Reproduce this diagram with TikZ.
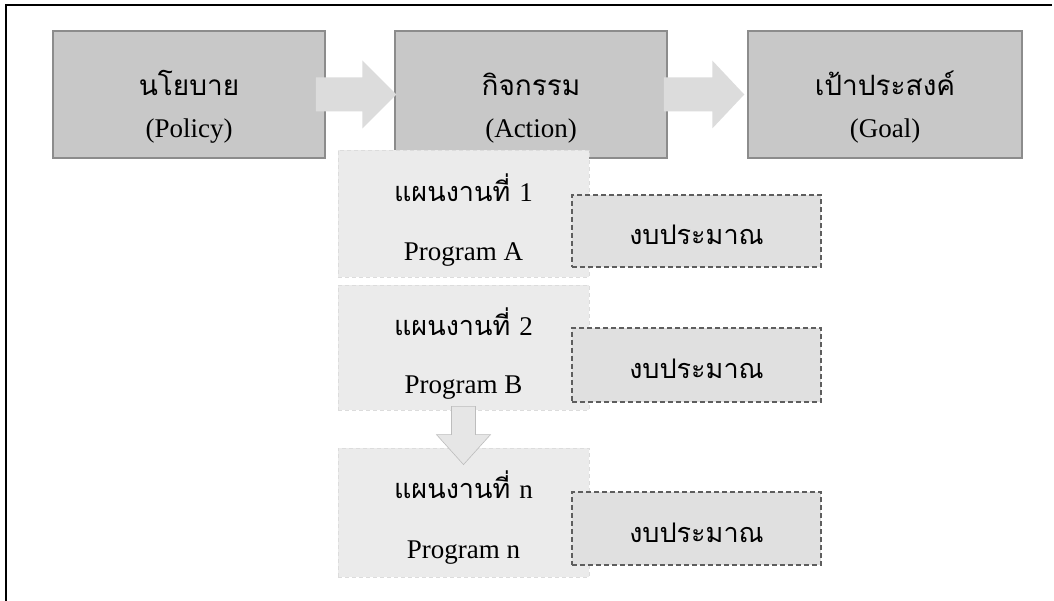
\documentclass[tikz,border=0pt]{standalone}
\usepackage{fontspec}
\setmainfont{Liberation Serif}
\newfontfamily\thaifont[Script=Thai]{Loma}
\usetikzlibrary{calc}

\definecolor{boxfill}{HTML}{C8C8C8}
\definecolor{boxline}{HTML}{8C8C8C}
\definecolor{arrowfill}{HTML}{DCDCDC}
\definecolor{progfill}{HTML}{EBEBEB}
\definecolor{progline}{HTML}{DCDCDC}
\definecolor{budgfill}{HTML}{E0E0E0}
\definecolor{budgline}{HTML}{5E5E5E}
\definecolor{downfill}{HTML}{E6E6E6}
\definecolor{downline}{HTML}{BDBDBD}

\tikzset{
  mainbox/.style={draw=boxline, fill=boxfill, line width=1.5pt, inner sep=0pt,
    minimum width=272pt, minimum height=127pt},
  progbox/.style={draw=progline, fill=progfill, line width=0.8pt,
    dash pattern=on 4pt off 3pt, inner sep=0pt, minimum width=251pt},
  budgbox/.style={draw=budgline, fill=budgfill, line width=1.2pt,
    dash pattern=on 5pt off 3pt, inner sep=0pt, minimum width=249pt},
  thaitxt/.style={anchor=base, inner sep=0pt, font=\thaifont\fontsize{27}{32}\selectfont},
  thaibig/.style={thaitxt, font=\thaifont\fontsize{28}{33}\selectfont},
  latintxt/.style={anchor=base, inner sep=0pt, font=\fontsize{27}{32}\selectfont},
  bigarrow/.style={fill=arrowfill},
  downarrow/.style={fill=downfill, draw=downline, line width=0.6pt},
  frameline/.style={line width=2pt, black}
}

\begin{document}
\begin{tikzpicture}[x=1pt, y=-1pt]
  \useasboundingbox (0,0) rectangle (1054,601);
  \fill[white] (0,0) rectangle (1054,601);

  % frame
  \coordinate (fl) at (6,601);
  \coordinate (ftl) at (6,5);
  \coordinate (ftr) at (1052,5);
  \draw[frameline] (fl) -- (ftl) -- (ftr);

  % top row
  \node[mainbox] (pol) at (189,94.5) {};
  \node[mainbox] (act) at (531,94.5) {};
  \node[mainbox, minimum width=274pt] (goal) at (885,94.5) {};

  \node[thaibig]  (pol-th) at ($(pol)+(0,1.5)$)  {นโยบาย};
  \node[latintxt] (pol-en) at ($(pol)+(0,43.5)$) {(Policy)};
  \node[thaibig]  (act-th) at ($(act)+(0,1.5)$)  {กิจกรรม};
  \node[latintxt] (act-en) at ($(act)+(0,43.5)$) {(Action)};
  \node[thaibig]  (goal-th) at ($(goal)+(0,1.5)$)  {เป้าประสงค์};
  \node[latintxt] (goal-en) at ($(goal)+(0,43.5)$) {(Goal)};

  % block arrows between the top boxes
  \fill[bigarrow] ($(pol.east)+(-10,17)$) -- ($(act.west)+(-32,17)$) -- ($(act.west)+(-32,34)$)
    -- ($(act.west)+(2,0)$) -- ($(act.west)+(-32,-34)$) -- ($(act.west)+(-32,-17)$)
    -- ($(pol.east)+(-10,-17)$) -- cycle;
  \fill[bigarrow] ($(act.east)+(-4,17)$) -- ($(goal.west)+(-35,17)$) -- ($(goal.west)+(-35,34)$)
    -- ($(goal.west)+(-3,0)$) -- ($(goal.west)+(-35,-34)$) -- ($(goal.west)+(-35,-17)$)
    -- ($(act.east)+(-4,-17)$) -- cycle;

  % programme boxes
  \node[progbox, minimum height=127pt] (p1) at (463.5,213.5) {};
  \node[progbox, minimum height=125pt] (p2) at (463.5,347.5) {};
  \node[progbox, minimum height=129pt] (pn) at (463.5,512.5) {};

  % arrow from programme B down to programme n
  \draw[downarrow] ($(p2.south)+(-12,-4)$) -- ($(pn.north)+(-12,-13)$) -- ($(pn.north)+(-27,-13)$)
    -- ($(pn.north)+(0,17)$) -- ($(pn.north)+(27,-13)$) -- ($(pn.north)+(12,-13)$)
    -- ($(p2.south)+(12,-4)$) -- cycle;

  \node[thaitxt]  (p1-th) at ($(p1)+(0,-12)$) {แผนงานที่ {\rmfamily 1}};
  \node[latintxt] (p1-en) at ($(p1)+(0,47)$)  {Program A};
  \node[thaitxt]  (p2-th) at ($(p2)+(0,-12)$) {แผนงานที่ {\rmfamily 2}};
  \node[latintxt] (p2-en) at ($(p2)+(0,46)$)  {Program B};
  \node[thaitxt]  (pn-th) at ($(pn)+(0,-14)$) {แผนงานที่ {\rmfamily n}};
  \node[latintxt] (pn-en) at ($(pn)+(0,46)$)  {Program n};

  % budget boxes
  \node[budgbox, minimum height=72pt] (b1) at (696.5,231) {};
  \node[budgbox, minimum height=74pt] (b2) at (696.5,365) {};
  \node[budgbox, minimum height=73pt] (bn) at (696.5,528.5) {};
  \node[thaitxt] (b1-th) at ($(b1)+(0,14)$) {งบประมาณ};
  \node[thaitxt] (b2-th) at ($(b2)+(0,13)$) {งบประมาณ};
  \node[thaitxt] (bn-th) at ($(bn)+(0,14)$) {งบประมาณ};
\end{tikzpicture}
\end{document}
